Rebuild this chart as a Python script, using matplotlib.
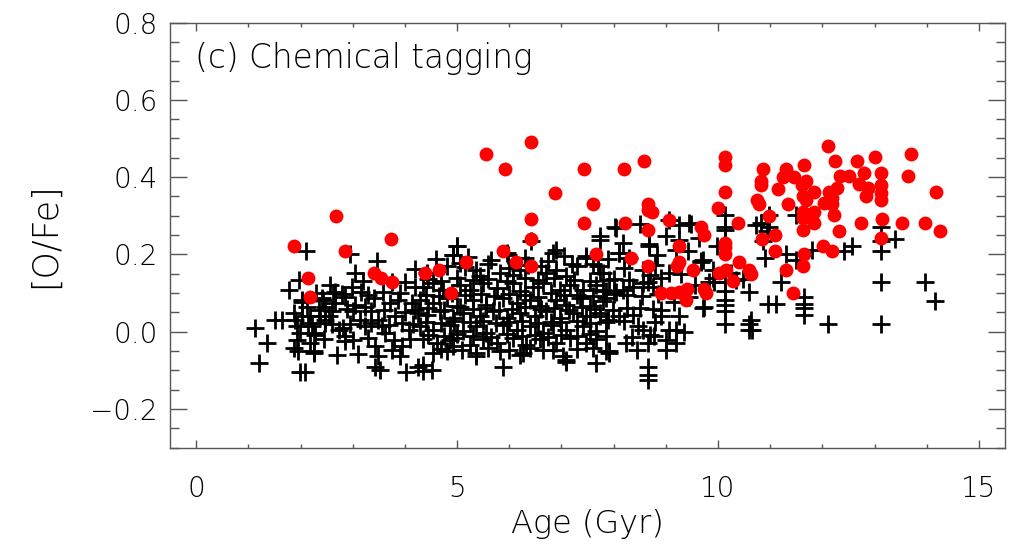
import matplotlib
matplotlib.use("Agg")
import matplotlib.pyplot as plt
from matplotlib.ticker import MultipleLocator

# black crosses: age (Gyr), [O/Fe]
age_black = [
    1.13, 1.36, 1.21, 1.52, 1.64, 1.77, 1.87, 1.90, 1.93, 1.99, 1.93, 1.98, 2.03, 2.11, 2.19, 2.22,
    2.28, 2.44, 2.47, 2.54, 2.57, 2.66, 2.66, 2.73, 2.85, 2.85, 2.95, 2.98, 3.01, 3.05, 3.05, 3.14,
    3.24, 3.24, 3.40, 3.46, 3.49, 3.56, 3.59, 3.62, 3.72, 3.81, 3.87, 3.94, 4.00, 4.07, 4.13, 4.19,
    4.19, 4.26, 1.87, 1.96, 2.25, 1.99, 2.09, 3.43, 3.49, 3.43, 3.52, 3.75, 3.94, 4.03, 4.26,
    2.02, 2.12, 2.02, 2.15, 2.25, 2.19, 2.25, 2.63, 2.41, 2.47, 2.38, 2.47, 2.85, 2.82,
    4.99, 4.93, 6.42, 7.73, 5.95, 6.84, 7.48, 7.60, 7.29,
    4.42, 5.37, 5.44, 5.82, 6.07, 6.20, 6.71, 6.90, 7.09, 7.80,
    4.35, 4.54, 4.74, 5.05, 5.25, 5.50, 5.76, 6.07, 6.20, 6.46, 6.65, 6.97, 7.16, 7.41, 7.67, 7.86,
    4.29, 4.54, 4.80, 4.99, 5.31, 5.56, 5.88, 6.14, 6.39, 6.58, 6.90, 7.09, 7.35, 7.54, 7.80,
    4.42, 4.67, 4.93, 5.12, 5.44, 5.69, 5.95, 6.20, 6.49, 6.71, 6.97, 7.22, 7.48, 7.73,
    4.29, 4.54, 4.86, 5.12, 5.37, 5.56, 5.88, 6.14, 6.39, 6.65, 6.84, 7.09, 7.41, 7.67,
    4.35, 4.61, 4.93, 5.25, 5.50, 5.76, 6.07, 6.33, 6.58, 6.90, 7.16, 7.48, 7.67,
    4.54, 4.80, 5.37, 5.82, 6.20, 6.84, 7.03, 7.86,
    4.35, 5.88, 7.09, 4.35, 4.52, 5.37, 6.26, 7.09, 7.67, 7.92, 4.93, 4.86,
    4.99, 4.93, 5.05,
    8.50, 8.05, 9.48, 8.18, 8.67, 8.10, 8.83, 9.42, 9.67, 9.07, 8.56, 8.69, 7.92, 7.73, 8.37, 8.56,
    8.65, 8.75, 8.18, 8.05, 7.86, 7.79, 9.90, 9.71, 9.16, 8.91, 8.91, 8.50, 8.37, 7.98, 8.11, 7.89,
    7.73, 8.46, 8.56, 8.69, 9.07, 9.20, 9.00, 8.78, 8.24, 7.92, 9.00, 8.65, 8.65, 8.65, 8.65,
    10.34, 10.25, 10.73, 10.93, 10.86, 9.26, 9.00, 9.64, 9.45, 9.07, 7.73, 8.68, 9.26, 9.20, 6.90,
    5.98, 7.48, 8.11, 9.71, 8.02, 9.26, 9.35, 9.20, 9.45, 9.55, 9.30,
    10.14, 10.14, 10.14, 9.99, 10.97, 10.82, 10.97, 11.49, 9.67, 9.90, 9.93, 9.83, 10.14, 10.14,
    10.14, 10.14, 10.14, 10.14, 9.74, 10.47, 10.60, 10.60, 10.60, 10.66, 10.63, 10.90, 11.31, 11.49,
    11.20, 10.95, 11.11, 11.64, 11.64, 11.64, 11.64, 11.81, 12.10, 12.41, 12.57, 13.12, 13.12, 13.12,
    13.12, 13.12, 13.40, 13.96, 14.15,
]
ofe_black = [
    0.010, -0.029, -0.081, 0.031, 0.031, 0.109, 0.048, 0.031, 0.014, -0.003, -0.021, 0.135, 0.083, 0.210, 0.040, 0.014,
    -0.008, 0.083, 0.031, 0.040, 0.122, 0.104, 0.074, 0.005, -0.012, 0.091, 0.201, 0.117, 0.053, 0.152, 0.070, 0.031,
    0.065, 0.014, 0.087, 0.182, 0.031, 0.014, 0.104, -0.003, 0.074, 0.040, 0.083, 0.023, 0.130, 0.005, 0.074, 0.162,
    0.117, 0.048, -0.042, -0.051, -0.055, -0.103, -0.103, -0.038, -0.064, -0.090, -0.098, -0.047, -0.038, -0.103, -0.090,
    0.078, 0.065, 0.040, 0.023, -0.003, -0.029, -0.051, 0.100, 0.087, 0.065, 0.040, 0.023, -0.025, 0.010,
    0.221, 0.199, 0.234, 0.238, 0.204, 0.204, 0.191, 0.174, 0.169,
    0.152, 0.161, 0.143, 0.152, 0.148, 0.161, 0.152, 0.161, 0.143, 0.152,
    0.117, 0.126, 0.109, 0.122, 0.109, 0.126, 0.113, 0.126, 0.105, 0.117, 0.126, 0.109, 0.122, 0.109, 0.122, 0.105,
    0.083, 0.074, 0.087, 0.066, 0.083, 0.070, 0.087, 0.074, 0.083, 0.066, 0.083, 0.070, 0.087, 0.066, 0.079,
    0.044, 0.053, 0.036, 0.049, 0.040, 0.053, 0.036, 0.049, 0.040, 0.053, 0.036, 0.049, 0.040, 0.049,
    0.014, 0.005, 0.018, 0.001, 0.014, -0.003, 0.018, 0.005, 0.014, -0.003, 0.018, 0.005, 0.014, 0.001,
    -0.020, -0.029, -0.016, -0.033, -0.020, -0.029, -0.016, -0.033, -0.020, -0.029, -0.016, -0.029, -0.020,
    -0.055, -0.051, -0.055, -0.051, -0.059, -0.046, -0.064, -0.051,
    -0.085, -0.090, -0.077, -0.102, -0.100, -0.064, -0.055, -0.072, -0.081, -0.055, -0.038, -0.021,
    0.221, 0.199, 0.178,
    0.279, 0.268, 0.279, 0.229, 0.228, 0.204, 0.199, 0.208, 0.182, 0.152, 0.160, 0.147, 0.135, 0.152, 0.117, 0.126,
    0.130, 0.117, 0.109, 0.104, 0.087, 0.109, 0.139, 0.061, 0.078, 0.057, 0.040, 0.061, 0.044, 0.057, 0.040, 0.031,
    0.040, 0.014, 0.005, -0.008, 0.005, 0.005, -0.021, -0.012, -0.029, -0.051, -0.047, -0.029, -0.090, -0.111, -0.124,
    0.135, 0.152, 0.277, 0.260, 0.234, 0.277, 0.247, 0.242, 0.281, 0.290, 0.247, 0.221, 0.238, 0.212, 0.212,
    0.199, 0.195, 0.204, 0.186, 0.272, 0.040, 0.000, -0.030, 0.090, 0.120, 0.150,
    0.303, 0.270, 0.262, 0.221, 0.303, 0.281, 0.270, 0.303, 0.180, 0.160, 0.130, 0.130, 0.130, 0.083,
    0.053, 0.021, 0.105, 0.070, 0.064, 0.137, 0.102, 0.021, 0.005, 0.005, 0.031, 0.190, 0.202, 0.186,
    0.130, 0.072, 0.072, 0.091, 0.072, 0.061, 0.044, 0.212, 0.021, 0.210, 0.221, 0.270, 0.234, 0.210,
    0.130, 0.021, 0.241, 0.130, 0.080,
]

# extra black crosses in the crowded band (estimated, heavily overlapping)
age_black_dense = [
    4.60, 5.20, 5.65, 6.30, 6.75, 7.05, 7.90, 8.30,
    4.80, 5.15, 5.60, 6.00, 6.35, 6.60, 7.20, 7.70, 8.20, 8.80,
    4.45, 4.70, 5.00, 5.30, 5.60, 5.95, 6.30, 6.55, 6.85, 7.25, 7.55, 8.00, 8.30, 8.90,
    4.40, 4.65, 4.90, 5.15, 5.45, 5.70, 6.00, 6.30, 6.55, 6.80, 7.05, 7.30, 7.60, 8.00, 8.25, 8.55, 8.85,
    4.45, 4.75, 5.05, 5.30, 5.55, 5.80, 6.05, 6.30, 6.60, 6.85, 7.15, 7.40, 7.65, 8.25, 8.75,
    4.40, 4.70, 4.95, 5.25, 5.50, 5.75, 6.00, 6.25, 6.55, 6.80, 7.00, 7.30, 7.55, 7.85, 8.20, 8.80,
    4.45, 4.75, 5.00, 5.30, 5.65, 5.95, 6.25, 6.50, 6.75, 7.00, 7.30, 7.55, 7.85, 8.35,
    4.70, 5.10, 5.60, 6.00, 6.40, 6.65, 7.30, 7.60, 8.45,
    3.20, 3.75, 2.30, 2.80, 3.15, 3.30, 3.90,
    2.35, 2.60, 2.90, 3.35, 3.60, 4.00, 4.20,
    2.60, 2.95, 3.35, 3.70, 4.15, 2.45, 3.00, 3.30, 3.80, 4.10, 2.70, 3.10, 3.90,
]
ofe_black_dense = [
    0.188, 0.193, 0.185, 0.190, 0.183, 0.196, 0.187, 0.192,
    0.171, 0.168, 0.175, 0.166, 0.172, 0.169, 0.176, 0.170, 0.165, 0.173,
    0.137, 0.132, 0.139, 0.134, 0.136, 0.131, 0.138, 0.133, 0.140, 0.135, 0.131, 0.137, 0.134, 0.139,
    0.096, 0.093, 0.099, 0.094, 0.097, 0.092, 0.098, 0.095, 0.091, 0.099, 0.094, 0.096, 0.092, 0.098, 0.095, 0.093, 0.097,
    0.061, 0.057, 0.063, 0.059, 0.062, 0.056, 0.060, 0.064, 0.058, 0.061, 0.057, 0.063, 0.059, 0.062, 0.058,
    0.026, 0.023, 0.028, 0.024, 0.027, 0.022, 0.025, 0.029, 0.023, 0.026, 0.024, 0.028, 0.022, 0.025, 0.027, 0.024,
    -0.008, -0.012, -0.006, -0.010, -0.013, -0.007, -0.011, -0.009, -0.014, -0.008, -0.012, -0.006, -0.010, -0.013,
    -0.044, -0.047, -0.042, -0.046, -0.043, -0.048, -0.045, -0.041, -0.047,
    0.131, 0.128, 0.101, 0.098, 0.103, 0.096, 0.100,
    0.056, 0.053, 0.058, 0.054, 0.057, 0.052, 0.055,
    0.021, 0.019, 0.023, 0.018, 0.020, -0.018, -0.021, -0.016, -0.022, -0.019, -0.060, -0.057, -0.062,
]

# red filled circles: age (Gyr), [O/Fe]
age_red = [
    1.88, 2.68, 2.85, 3.74, 2.14, 2.19, 3.40, 3.54, 3.75, 4.39, 4.65, 4.89, 5.18, 5.56, 5.92, 6.42,
    6.88, 6.42, 6.42, 5.88, 6.12, 6.42, 7.43, 7.60, 7.43, 7.66, 8.19, 8.58, 8.66, 8.66, 8.74, 8.22,
    8.66, 9.06, 8.33, 8.66, 9.26, 9.26, 9.21, 9.53, 8.90, 9.09, 9.26, 9.40, 9.38, 9.67, 9.74, 9.74,
    9.77, 10.00, 10.14, 10.14, 10.14, 10.38, 10.14, 10.14, 10.14, 10.41, 10.02, 10.16, 10.28, 10.60,
    10.64, 10.84, 11.09, 11.09, 11.30, 11.44, 10.87, 10.83, 10.83, 10.74, 10.79, 10.97, 11.15, 11.24,
    11.31, 11.46, 11.34, 11.64, 11.69, 11.61, 11.84, 11.62, 11.68, 11.63, 11.84, 11.63, 11.84, 11.63,
    11.65, 11.63, 12.10, 12.25, 12.34, 12.51, 12.67, 13.00, 12.80, 13.13, 12.70, 12.87, 12.83, 13.13,
    13.13, 13.13, 12.29, 12.13, 12.19, 12.03, 12.18, 12.23, 12.32, 12.74, 13.14, 13.13, 12.01, 12.19,
    13.70, 13.64, 13.53, 13.96, 14.17, 14.25,
]
ofe_red = [
    0.221, 0.300, 0.210, 0.241, 0.140, 0.090, 0.151, 0.140, 0.130, 0.151, 0.160, 0.101, 0.180, 0.461, 0.421, 0.491,
    0.360, 0.291, 0.241, 0.210, 0.180, 0.171, 0.421, 0.331, 0.281, 0.201, 0.421, 0.441, 0.331, 0.316, 0.311, 0.281,
    0.263, 0.288, 0.191, 0.171, 0.221, 0.181, 0.170, 0.160, 0.101, 0.100, 0.102, 0.110, 0.081, 0.272, 0.251, 0.110,
    0.100, 0.320, 0.453, 0.431, 0.361, 0.281, 0.230, 0.219, 0.202, 0.180, 0.151, 0.160, 0.131, 0.160,
    0.150, 0.241, 0.251, 0.210, 0.160, 0.101, 0.421, 0.391, 0.380, 0.342, 0.331, 0.300, 0.370, 0.401,
    0.421, 0.401, 0.331, 0.431, 0.391, 0.380, 0.361, 0.350, 0.342, 0.311, 0.311, 0.294, 0.281, 0.263,
    0.201, 0.171, 0.480, 0.441, 0.402, 0.402, 0.441, 0.451, 0.411, 0.411, 0.382, 0.371, 0.350, 0.380,
    0.360, 0.342, 0.371, 0.361, 0.346, 0.332, 0.330, 0.301, 0.261, 0.281, 0.291, 0.242, 0.222, 0.210,
    0.461, 0.402, 0.281, 0.281, 0.361, 0.261,
]

text_color = "#000000"
axis_color = "#555555"
plt.rcParams["font.weight"] = "light"
plt.rcParams["axes.labelweight"] = "light"

fig = plt.figure(figsize=(10.25, 5.48), dpi=100)
ax = fig.add_axes([0.1659, 0.1830, 0.8146, 0.7759])

cross = dict(linestyle="none", marker="+", color="black", markersize=13.5, markeredgewidth=2.0)
ax.plot(age_black, ofe_black, **cross)
ax.plot(age_black_dense, ofe_black_dense, **cross)
ax.plot(age_red, ofe_red, linestyle="none", marker="o", color="#ff0000",
        markersize=10, markeredgewidth=0)

ax.set_xlim(-0.5, 15.5)
ax.set_ylim(-0.3, 0.8)
ax.xaxis.set_major_locator(MultipleLocator(5))
ax.xaxis.set_minor_locator(MultipleLocator(1))
ax.yaxis.set_major_locator(MultipleLocator(0.2))
ax.yaxis.set_minor_locator(MultipleLocator(0.05))
ax.yaxis.set_major_formatter(plt.FuncFormatter(lambda v, p: ("%.1f" % v).replace("-", "\u2212")))

for s in ax.spines.values():
    s.set_color(axis_color)
    s.set_linewidth(1.0)

ax.tick_params(axis="both", which="both", direction="in", top=True, right=True,
               colors=axis_color, labelcolor=text_color, labelsize=20, width=1.0)
ax.tick_params(axis="x", which="major", length=6, pad=20)
ax.tick_params(axis="x", which="minor", length=3)
ax.tick_params(axis="y", which="major", length=12.5, pad=9)
ax.tick_params(axis="y", which="minor", length=6.5)

ax.set_xlabel("Age (Gyr)", fontsize=23, color=text_color, labelpad=4, fontweight="light")
ax.set_ylabel("[O/Fe]", fontsize=25, color=text_color, labelpad=20, fontweight="light")
ax.text(0.03, 0.9165, "(c) Chemical tagging", transform=ax.transAxes,
        fontsize=23.5, color=text_color, va="center", ha="left", fontweight="light")

fig.savefig("out.png", dpi=100)
